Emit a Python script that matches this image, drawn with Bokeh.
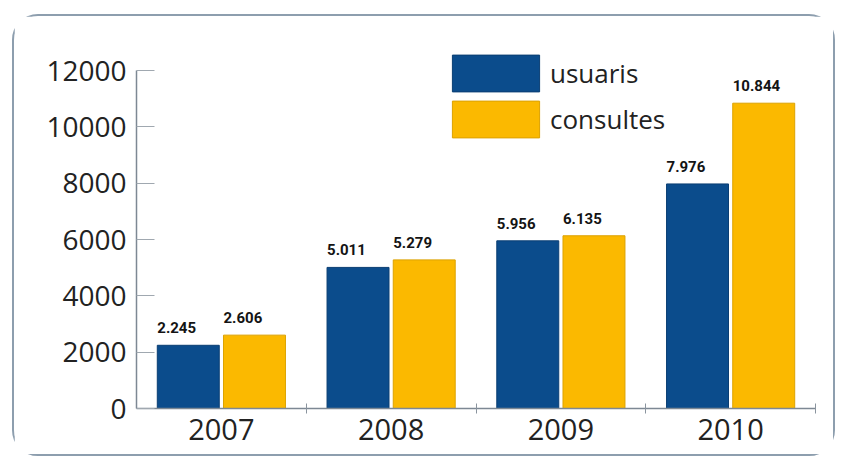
from bokeh.plotting import figure
from bokeh.layouts import column, row
from bokeh.core.properties import value
from bokeh.models import (Range1d, FixedTicker, ColumnDataSource, LabelSet,
                          Legend, LegendItem, Spacer)
from bokeh.embed import file_html
from bokeh.resources import INLINE

years = ["2007", "2008", "2009", "2010"]
usuaris = [2245, 5011, 5956, 7976]
consultes = [2606, 5279, 6135, 10844]
usuaris_labels = ["2.245", "5.011", "5.956", "7.976"]
consultes_labels = ["2.606", "5.279", "6.135", "10.844"]
y_ticks = [0, 2000, 4000, 6000, 8000, 10000, 12000]

BLUE = "#0b4c8c"
YELLOW = "#fbb900"
BAR_W = 0.365
idx = list(range(len(years)))

src_u = ColumnDataSource(dict(
    x=[i + 0.305 for i in idx], top=usuaris, lbl=usuaris_labels,
    lx=[i + 0.305 - BAR_W / 2 for i in idx]))
src_c = ColumnDataSource(dict(
    x=[i + 0.695 for i in idx], top=consultes, lbl=consultes_labels,
    lx=[i + 0.695 - BAR_W / 2 for i in idx]))

p = figure(width=823, height=442, output_backend="svg", toolbar_location=None,
           x_range=Range1d(0, len(years)), y_range=Range1d(0, 13000),
           min_border_left=122, min_border_right=22, min_border_top=26,
           min_border_bottom=50)
p.styles = {"border": "2px solid #8d9eae", "border-radius": "26px",
            "box-sizing": "border-box"}
p.outline_line_color = None
p.grid.visible = False
p.background_fill_color = "white"
p.border_fill_color = "white"

r_u = p.vbar(x="x", top="top", width=BAR_W, source=src_u, fill_color=BLUE,
             line_color="#0a3e73", line_width=1)
r_c = p.vbar(x="x", top="top", width=BAR_W, source=src_c, fill_color=YELLOW,
             line_color="#dca200", line_width=1)

for s in (src_u, src_c):
    p.add_layout(LabelSet(x="lx", y="top", text="lbl", source=s, y_offset=12,
                          text_font=value("Roboto"), text_font_style="bold",
                          text_font_size="15px", text_color="#141414",
                          text_align="left", text_baseline="alphabetic"))

# y axis
ya = p.yaxis[0]
ya.ticker = FixedTicker(ticks=y_ticks)
ya.bounds = (0, 12000)
ya.major_tick_in = 18
ya.major_tick_out = 0
ya.minor_tick_line_color = None
ya.major_tick_line_color = "#a0a8b0"
ya.axis_line_color = "#7d8894"
ya.axis_line_width = 1.5
ya.major_label_text_font = "Open Sans"
ya.major_label_text_font_size = "28px"
ya.major_label_text_color = "#222222"
ya.major_label_standoff = 10

# x axis
xa = p.xaxis[0]
xa.ticker = FixedTicker(ticks=[i + 0.5 for i in idx], minor_ticks=[i + 1 for i in idx])
xa.major_label_overrides = {i + 0.5: y for i, y in zip(idx, years)}
xa.major_tick_line_color = None
xa.minor_tick_in = 5
xa.minor_tick_out = 5
xa.minor_tick_line_color = "#8a949e"
xa.axis_line_color = "#7d8894"
xa.axis_line_width = 1.5
xa.major_label_text_font = "Open Sans"
xa.major_label_text_font_size = "29px"
xa.major_label_text_color = "#222222"
xa.major_label_standoff = 4

legend = Legend(items=[LegendItem(label="usuaris", renderers=[r_u]),
                       LegendItem(label="consultes", renderers=[r_c])],
                location=(305, 266), orientation="vertical",
                glyph_width=109, glyph_height=46, label_height=46,
                spacing=0, padding=0, margin=0, label_standoff=0,
                label_text_font="Open Sans", label_text_font_size="26px",
                label_text_color="#222222", label_text_baseline="middle",
                border_line_alpha=0, background_fill_alpha=0)
p.add_layout(legend)

layout = column(Spacer(height=14), row(Spacer(width=12), p))
open("out.html", "w").write(file_html(layout, INLINE))
